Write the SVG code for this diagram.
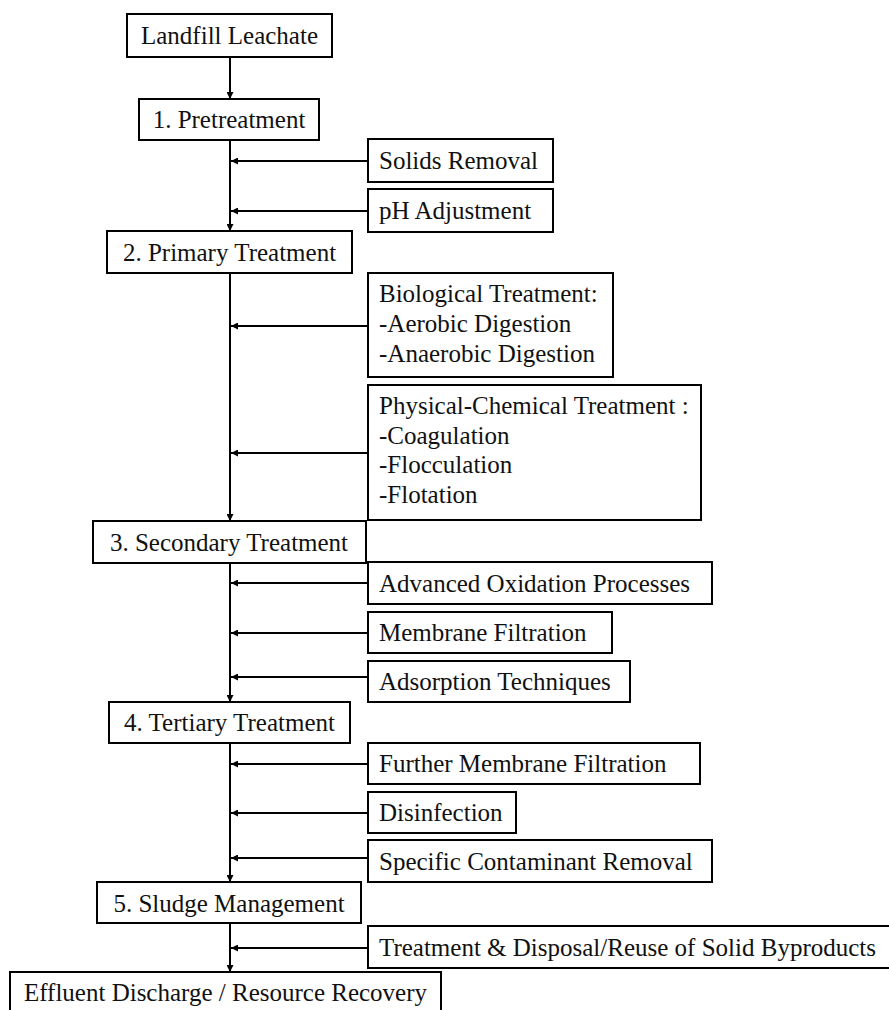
<svg xmlns="http://www.w3.org/2000/svg" width="889" height="1010" viewBox="0 0 889 1010">
<style>
.box{fill:#fff;stroke:#000;stroke-width:2}
.t{font-size:25px;fill:#111}
.c{text-anchor:middle}
.ln{stroke:#000;stroke-width:2;fill:none}
</style>
<defs>
<marker id="ah" viewBox="0 0 10 10" refX="10" refY="5" markerWidth="8" markerHeight="7" markerUnits="userSpaceOnUse" orient="auto">
<path d="M0,0 L10,5 L0,10 z" fill="#000"/>
</marker>
</defs>
<rect width="889" height="1010" fill="#fff"/>
<g id="connectors">
<path class="ln" d="M230,57 V99" marker-end="url(#ah)"/>
<path class="ln" d="M230,140 V231" marker-end="url(#ah)"/>
<path class="ln" d="M368,161 H231" marker-end="url(#ah)"/>
<path class="ln" d="M368,211 H231" marker-end="url(#ah)"/>
<path class="ln" d="M230,273 V521" marker-end="url(#ah)"/>
<path class="ln" d="M368,326 H231" marker-end="url(#ah)"/>
<path class="ln" d="M368,453 H231" marker-end="url(#ah)"/>
<path class="ln" d="M230,563 V702" marker-end="url(#ah)"/>
<path class="ln" d="M368,583 H231" marker-end="url(#ah)"/>
<path class="ln" d="M368,633 H231" marker-end="url(#ah)"/>
<path class="ln" d="M368,677 H231" marker-end="url(#ah)"/>
<path class="ln" d="M230,743 V882" marker-end="url(#ah)"/>
<path class="ln" d="M368,764 H231" marker-end="url(#ah)"/>
<path class="ln" d="M368,813 H231" marker-end="url(#ah)"/>
<path class="ln" d="M368,858 H231" marker-end="url(#ah)"/>
<path class="ln" d="M230,923 V972" marker-end="url(#ah)"/>
<path class="ln" d="M368,948 H231" marker-end="url(#ah)"/>
</g>
<g id="n-leachate"><rect class="box" x="127" y="14" width="205" height="43"/><text class="t c" font-family="Liberation Serif" x="229.5" y="44">Landfill Leachate</text></g>
<g id="n-pre"><rect class="box" x="139" y="99" width="180" height="41"/><text class="t c" font-family="Liberation Serif" x="229" y="128">1. Pretreatment</text></g>
<g id="n-solids"><rect class="box" x="368" y="139" width="185" height="43"/><text class="t" font-family="Liberation Serif" x="379" y="169">Solids Removal</text></g>
<g id="n-ph"><rect class="box" x="368" y="189" width="185" height="43"/><text class="t" font-family="Liberation Serif" x="379" y="219">pH Adjustment</text></g>
<g id="n-primary"><rect class="box" x="107" y="231" width="245" height="42"/><text class="t c" font-family="Liberation Serif" x="229.5" y="261">2. Primary Treatment</text></g>
<g id="n-bio"><rect class="box" x="368" y="273" width="245" height="104"/><text class="t" font-family="Liberation Serif" x="379" y="302">Biological Treatment:</text><text class="t" font-family="Liberation Serif" x="379" y="332">-Aerobic Digestion</text><text class="t" font-family="Liberation Serif" x="379" y="362">-Anaerobic Digestion</text></g>
<g id="n-phys"><rect class="box" x="368" y="385" width="333" height="135"/><text class="t" font-family="Liberation Serif" x="379" y="414">Physical-Chemical Treatment :</text><text class="t" font-family="Liberation Serif" x="379" y="444">-Coagulation</text><text class="t" font-family="Liberation Serif" x="379" y="473">-Flocculation</text><text class="t" font-family="Liberation Serif" x="379" y="503">-Flotation</text></g>
<g id="n-secondary"><rect class="box" x="93" y="521" width="273" height="42"/><text class="t c" font-family="Liberation Serif" x="229" y="551">3. Secondary Treatment</text></g>
<g id="n-aop"><rect class="box" x="368" y="562" width="344" height="42"/><text class="t" font-family="Liberation Serif" x="379" y="592">Advanced Oxidation Processes</text></g>
<g id="n-membrane"><rect class="box" x="368" y="612" width="244" height="41"/><text class="t" font-family="Liberation Serif" x="379" y="641">Membrane Filtration</text></g>
<g id="n-adsorption"><rect class="box" x="368" y="661" width="262" height="41"/><text class="t" font-family="Liberation Serif" x="379" y="690">Adsorption Techniques</text></g>
<g id="n-tertiary"><rect class="box" x="109" y="702" width="241" height="41"/><text class="t c" font-family="Liberation Serif" x="229.5" y="731">4. Tertiary Treatment</text></g>
<g id="n-further"><rect class="box" x="368" y="743" width="332" height="41"/><text class="t" font-family="Liberation Serif" x="379" y="772">Further Membrane Filtration</text></g>
<g id="n-disinfection"><rect class="box" x="368" y="792" width="148" height="41"/><text class="t" font-family="Liberation Serif" x="379" y="821">Disinfection</text></g>
<g id="n-specific"><rect class="box" x="368" y="840" width="344" height="42"/><text class="t" font-family="Liberation Serif" x="379" y="870">Specific Contaminant Removal</text></g>
<g id="n-sludge"><rect class="box" x="97" y="882" width="264" height="41"/><text class="t c" font-family="Liberation Serif" x="229" y="912">5. Sludge Management</text></g>
<g id="n-byproducts"><rect class="box" x="368" y="926" width="525" height="42"/><text class="t" font-family="Liberation Serif" x="379" y="956">Treatment &amp; Disposal/Reuse of Solid Byproducts</text></g>
<g id="n-effluent"><rect class="box" x="10" y="972" width="431" height="39"/><text class="t c" font-family="Liberation Serif" x="225.5" y="1001">Effluent Discharge / Resource Recovery</text></g>
</svg>
